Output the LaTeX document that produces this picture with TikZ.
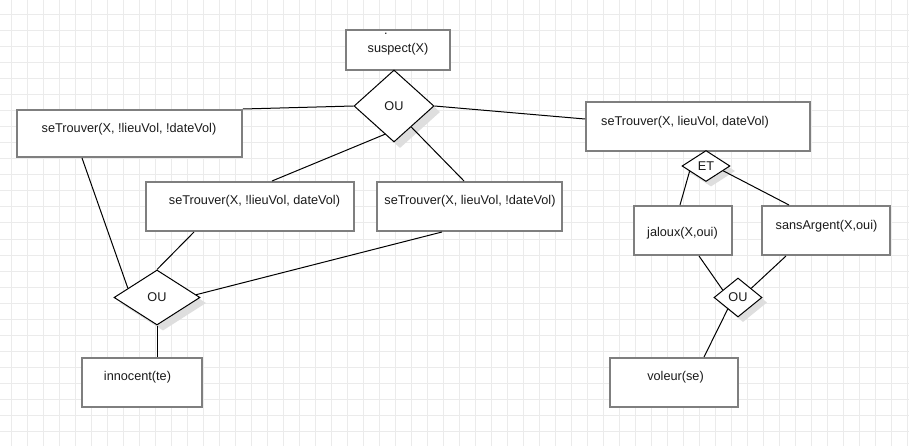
\documentclass[tikz,border=0pt]{standalone}
\usepackage{fontspec}
\setmainfont{Liberation Sans}
\usetikzlibrary{shapes.geometric,calc}
\definecolor{gridline}{HTML}{EBEBEB}
\definecolor{boxline}{HTML}{7F7F7F}
\definecolor{ink}{HTML}{1A1A1A}
\definecolor{shade}{HTML}{DEDEDE}
\tikzset{
  rulebox/.style={rectangle, draw=boxline, line width=2pt, fill=white, inner sep=0pt},
  gate/.style={diamond, draw=black, line width=1pt, fill=white, inner sep=0pt,
    text=ink, font=\fontsize{12.7}{15}\selectfont},
  gateshadow/.style={diamond, draw=none, fill=shade, inner sep=0pt},
  lbl/.style={inner sep=0pt, text=ink, font=\fontsize{12.7}{15}\selectfont},
  link/.style={draw=black, line width=1pt},
}
\begin{document}
\begin{tikzpicture}[x=1pt,y=-1pt]
\useasboundingbox (0,0) rectangle (909,446);
\fill[white] (0,0) rectangle (909,446);
% background grid
\foreach \gx in {11,27,...,907} \draw[gridline, line width=1pt] (\gx,0) -- (\gx,446);
\foreach \gy in {15,31,...,446} \draw[gridline, line width=1pt] (0,\gy) -- (909,\gy);

% rule boxes
\node[rulebox, minimum width=104pt, minimum height=40pt] (suspect) at (398,50) {};
\node[rulebox, minimum width=225pt, minimum height=47pt] (l1) at (129.5,133.5) {};
\node[rulebox, minimum width=224pt, minimum height=49pt] (r1) at (698,126.5) {};
\node[rulebox, minimum width=208pt, minimum height=49pt] (m1) at (250,206.5) {};
\node[rulebox, minimum width=185pt, minimum height=49pt] (m2) at (469.5,206.5) {};
\node[rulebox, minimum width=120pt, minimum height=49pt] (inn) at (142,382.5) {};
\node[rulebox, minimum width=98pt, minimum height=49pt] (jal) at (683,230.5) {};
\node[rulebox, minimum width=128pt, minimum height=49pt] (sans) at (826,230.5) {};
\node[rulebox, minimum width=128pt, minimum height=49pt] (vol) at (674,382.5) {};

% box texts
\node[lbl] (tdot) at (386,34) {.};
\node[lbl] (tsuspect) at (398,49) {suspect(X)};
\node[lbl] (tl1) at (129,129) {seTrouver(X, !lieuVol, !dateVol)};
\node[lbl] (tr1) at (685,122) {seTrouver(X, lieuVol, dateVol)};
\node[lbl] (tm1) at (254.5,201) {seTrouver(X, !lieuVol, dateVol)};
\node[lbl] (tm2) at (470,201) {seTrouver(X, lieuVol, !dateVol)};
\node[lbl] (tinn) at (137.5,377) {innocent(te)};
\node[lbl] (tjal) at (682.5,233) {jaloux(X,oui)};
\node[lbl] (tsans) at (826.5,226) {sansArgent(X,oui)};
\node[lbl] (tvol) at (675.5,377) {voleur(se)};

% soft shadows under the gates
\node[gateshadow, minimum width=80pt, minimum height=72pt] (ou1s) at (400,112) {};
\node[gateshadow, minimum width=48pt, minimum height=31pt] (ets) at (711,171) {};
\node[gateshadow, minimum width=86pt, minimum height=55pt] (ou2s) at (163,303) {};
\node[gateshadow, minimum width=48pt, minimum height=39pt] (ou3s) at (743,302.5) {};

% logic gates
\node[gate, minimum width=80pt, minimum height=72pt] (ou1) at (394,106) {OU};
\node[gate, minimum width=48pt, minimum height=31pt] (et) at (706,166) {ET};
\node[gate, minimum width=86pt, minimum height=55pt] (ou2) at (157,297.5) {OU};
\node[gate, minimum width=48pt, minimum height=39pt] (ou3) at (738,297.5) {OU};

% connectors
\draw[link] (ou1.west) -- (l1.north east);
\draw[link] (ou1.east) -- ([yshift=7.5pt]r1.west);
\draw[link] ($(ou1.west)!0.775!(ou1.south)$) -- ([xshift=22pt]m1.north);
\draw[link] ($(ou1.south)!0.425!(ou1.east)$) -- ([xshift=-5.5pt]m2.north);
\draw[link] ([xshift=-47.5pt]l1.south) -- ($(ou2.west)!0.33!(ou2.north)$);
\draw[link] ([xshift=-56pt]m1.south) -- (ou2.north);
\draw[link] ([xshift=-27.5pt]m2.south) -- ($(ou2.north)!0.9!(ou2.east)$);
\draw[link] (ou2.south) -- (ou2.south |- inn.north);
\draw[link] ($(et.west)!0.33!(et.south)$) -- ([xshift=-3pt]jal.north);
\draw[link] ($(et.south)!0.7!(et.east)$) -- ([xshift=-37pt]sans.north);
\draw[link] ([xshift=16pt]jal.south) -- ($(ou3.west)!0.375!(ou3.north)$);
\draw[link] ([xshift=-40pt]sans.south) -- ($(ou3.north)!0.54!(ou3.east)$);
\draw[link] ($(ou3.west)!0.58!(ou3.south)$) -- ([xshift=30pt]vol.north);
\end{tikzpicture}
\end{document}
